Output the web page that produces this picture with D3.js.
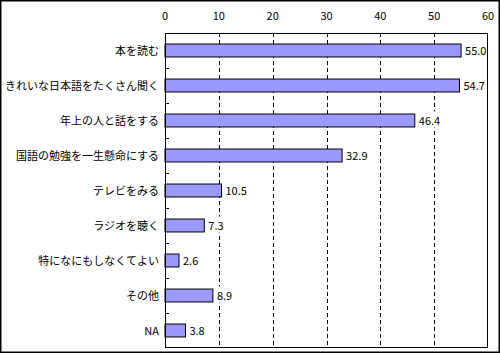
<!DOCTYPE html>
<html>
<head>
<meta charset="utf-8">
<script src="https://cdn.jsdelivr.net/npm/d3@7"></script>
<style>
  body { margin: 0; background: #fff; }
  text { font-family: "Noto Sans CJK JP", sans-serif; }
</style>
</head>
<body>
<div id="canvas"></div>
<script>
"use strict"

/* Data */
let categories = ["本を読む", "きれいな日本語をたくさん聞く", "年上の人と話をする",
  "国語の勉強を一生懸命にする", "テレビをみる", "ラジオを聴く",
  "特になにもしなくてよい", "その他", "NA"];
let values = [55.0, 54.7, 46.4, 32.9, 10.5, 7.3, 2.6, 8.9, 3.8];
let xTicks = [0, 10, 20, 30, 40, 50, 60];

/* Drawing configuration */
let svgWidth = 500;
let svgHeight = 353;
let plot = {left: 165, right: 488, top: 33, bottom: 348};

let svg = d3.select("#canvas")
  .append("svg")
  .attr("width", svgWidth)
  .attr("height", svgHeight);

/* outer frame */
svg.append("rect")
  .attr("x", 0.75).attr("y", 0.75)
  .attr("width", svgWidth - 1.5).attr("height", svgHeight - 1.5)
  .attr("fill", "#fff")
  .attr("stroke", "#000")
  .attr("stroke-width", 1.5);

let xScale = d3.scaleLinear()
  .domain([0, 60])
  .range([plot.left, plot.right]);

let yScale = d3.scaleBand()
  .domain(categories)
  .range([plot.top, plot.bottom])
  .paddingInner(0.63)
  .paddingOuter(0.315);

/* dashed grid */
svg.selectAll("line.grid")
  .data(xTicks.slice(1, -1))
  .enter()
  .append("line")
  .attr("class", "grid")
  .attr("x1", d => Math.round(xScale(d)) + 0.5)
  .attr("x2", d => Math.round(xScale(d)) + 0.5)
  .attr("y1", plot.top)
  .attr("y2", plot.bottom)
  .attr("stroke", "#000")
  .attr("stroke-dasharray", "4,3");

/* top tick labels */
svg.selectAll("text.xtick")
  .data(xTicks)
  .enter()
  .append("text")
  .attr("class", "xtick")
  .attr("x", d => xScale(d))
  .attr("y", 20)
  .attr("text-anchor", "middle")
  .style("font-size", "11px")
  .text(d => d);

/* bars */
svg.selectAll("rect.bar")
  .data(values)
  .enter()
  .append("rect")
  .attr("class", "bar")
  .attr("x", xScale(0))
  .attr("y", (d, i) => yScale(categories[i]))
  .attr("width", d => xScale(d) - xScale(0))
  .attr("height", yScale.bandwidth())
  .attr("fill", "#9999ff")
  .attr("stroke", "#000")
  .attr("stroke-width", 1);

/* value labels, each on a white box that hides the grid */
let valGroups = svg.selectAll("g.val")
  .data(values)
  .enter()
  .append("g")
  .attr("class", "val");

valGroups.append("rect")
  .attr("fill", "#fff");

valGroups.append("text")
  .attr("x", d => xScale(d) + 4)
  .attr("y", (d, i) => yScale(categories[i]) + yScale.bandwidth() / 2 + 4)
  .style("font-size", "11px")
  .text(d => d.toFixed(1));

valGroups.each(function () {
  let g = d3.select(this);
  let bb = g.select("text").node().getBBox();
  g.select("rect")
    .attr("x", bb.x - 1)
    .attr("y", bb.y)
    .attr("width", bb.width + 2)
    .attr("height", bb.height);
});

/* plot frame */
svg.append("rect")
  .attr("x", plot.left + 0.5).attr("y", plot.top + 0.5)
  .attr("width", plot.right - plot.left - 1).attr("height", plot.bottom - plot.top - 1)
  .attr("fill", "none")
  .attr("stroke", "#000")
  .attr("stroke-width", 1);

/* category ticks between bands */
let step = yScale.step();
svg.selectAll("line.ytick")
  .data(categories.slice(1))
  .enter()
  .append("line")
  .attr("class", "ytick")
  .attr("x1", plot.left)
  .attr("x2", plot.left + 4)
  .attr("y1", d => Math.round(yScale(d) - step * 0.315) + 0.5)
  .attr("y2", d => Math.round(yScale(d) - step * 0.315) + 0.5)
  .attr("stroke", "#000");

/* category labels */
svg.selectAll("text.cat")
  .data(categories)
  .enter()
  .append("text")
  .attr("class", "cat")
  .attr("x", plot.left - 6)
  .attr("y", d => yScale(d) + yScale.bandwidth() / 2 + 4)
  .attr("text-anchor", "end")
  .style("font-size", "11px")
  .text(d => d);
</script>
</body>
</html>
